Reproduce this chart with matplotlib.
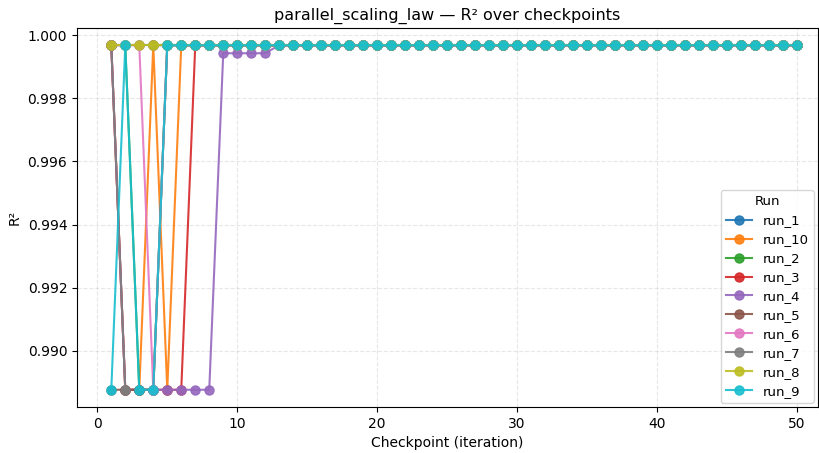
import numpy as np
import matplotlib
matplotlib.use("Agg")
import matplotlib.pyplot as plt

H = 0.999684   # converged R²
L = 0.988766   # low R²
M = 0.99943    # intermediate R²
NA = np.nan

checkpoints = list(range(1, 51))
run_names = ["run_1", "run_10", "run_2", "run_3", "run_4",
             "run_5", "run_6", "run_7", "run_8", "run_9"]

run_1 = [H] * 50
run_10 = [H, L, L, H, L] + [H] * 45
run_2 = [H, H, L, L] + [H] * 46
run_3 = [H, L, L, L, L, L] + [H] * 44
run_4 = [H] + [L] * 7 + [M] * 4 + [H] * 38
run_5 = [L, L, L, L] + [H] * 46
run_6 = [H, H, H, L] + [H] * 46
run_7 = [H, L, NA] + [H] * 47
run_8 = [H] * 50
run_9 = [L, H, L, L] + [H] * 46

series = [run_1, run_10, run_2, run_3, run_4, run_5, run_6, run_7, run_8, run_9]
colors = ["#1f77b4", "#ff7f0e", "#2ca02c", "#d62728", "#9467bd",
          "#8c564b", "#e377c2", "#7f7f7f", "#bcbd22", "#17becf"]

fig = plt.figure(figsize=(8.19, 4.53), dpi=100)
ax = fig.add_axes([77 / 819, 46 / 453, (818 - 77) / 819, (407 - 28) / 453])

for name, vals, c in zip(run_names, series, colors):
    ax.plot(checkpoints, vals, marker="o", markersize=6.5, linewidth=1.5,
            color=c, alpha=0.9, label=name)

ax.set_xlim(-1.45, 51.5)
ax.set_ylim(0.98822, 1.00023)
ax.grid(True, linestyle="--", alpha=0.3)
ax.set_title("parallel_scaling_law — R² over checkpoints", fontsize=11.5)
ax.set_xlabel("Checkpoint (iteration)", fontsize=10)
ax.set_ylabel("R²", fontsize=10)
ax.tick_params(labelsize=10)
ax.legend(title="Run", loc="lower right", fontsize=9.5, title_fontsize=9.5,
          borderaxespad=0.3, labelspacing=0.45)

fig.savefig("out.png", dpi=100)
